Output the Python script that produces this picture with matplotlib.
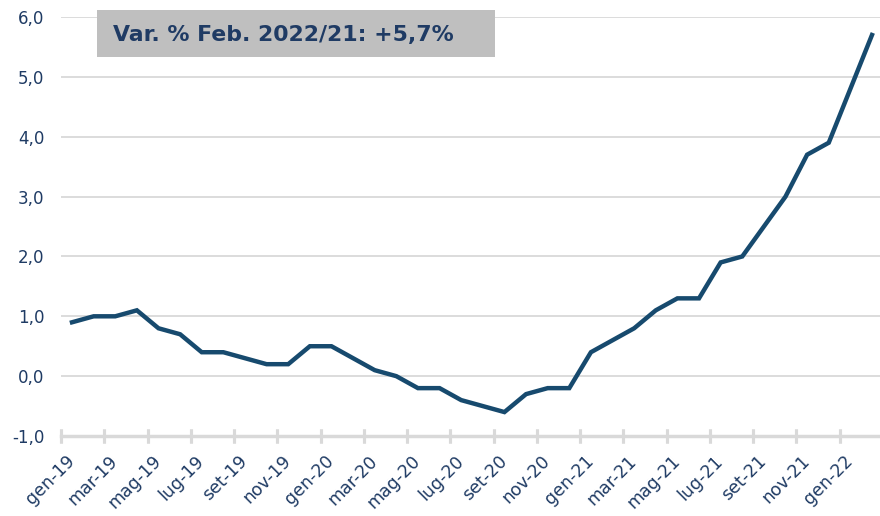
import matplotlib
matplotlib.use("Agg")
import matplotlib.pyplot as plt
from matplotlib.patches import Rectangle

months = ["gen", "feb", "mar", "apr", "mag", "giu", "lug", "ago", "set", "ott", "nov", "dic"]
categories = [f"{m}-{y}" for y in ("19", "20", "21") for m in months] + ["gen-22", "feb-22"]
values = [0.9, 1.0, 1.0, 1.1, 0.8, 0.7, 0.4, 0.4, 0.3, 0.2, 0.2, 0.5,
          0.5, 0.3, 0.1, 0.0, -0.2, -0.2, -0.4, -0.5, -0.6, -0.3, -0.2, -0.2,
          0.4, 0.6, 0.8, 1.1, 1.3, 1.3, 1.9, 2.0, 2.5, 3.0, 3.7, 3.9,
          4.8, 5.7]
yticks = [-1.0, 0.0, 1.0, 2.0, 3.0, 4.0, 5.0, 6.0]
title_text = "Var. % Feb. 2022/21: +5,7%"

text_color = "#1F3B64"
line_color = "#174A6E"
grid_color = "#D9D9D9"

plt.rcParams['font.family'] = ['DejaVu Sans']

fig = plt.figure(figsize=(8.8, 5.16), dpi=100)
ax = fig.add_axes([61.2 / 880, 0.155, 821.6 / 880, 0.812])

x = list(range(len(values)))
ax.plot(x, values, color=line_color, lw=3.2, solid_joinstyle='miter', zorder=3,
        clip_on=False)

ax.set_xlim(-0.5, len(values) - 0.5)
ax.set_ylim(-1.0, 6.0)
ax.set_yticks(yticks)
ax.set_yticklabels([f"{v:.1f}".replace(".", ",") for v in yticks],
                   color=text_color, fontsize=12)
for v in yticks[1:]:
    ax.axhline(v, color=grid_color, lw=1.3, zorder=1)

for s in ax.spines.values():
    s.set_visible(False)
ax.axhline(-1.0, color=grid_color, lw=2.5, zorder=2, clip_on=False)

ax.tick_params(axis='y', length=0, pad=12)
label_pos = x[::2]
ax.set_xticks(label_pos)
ax.set_xticklabels(categories[::2], rotation=45, ha='right', va='center',
                   rotation_mode='anchor', color=text_color, fontsize=12.5)
ax.tick_params(axis='x', length=0, pad=16)
for b in [i - 0.5 for i in range(0, len(values), 2)]:
    ax.plot([b, b], [-1.0, -1.0], marker='|', markersize=10, markeredgewidth=2.2,
            color=grid_color, clip_on=False, zorder=2)

fig.patches.append(Rectangle((97 / 880, 1 - 57 / 516), (495 - 97) / 880, 47 / 516,
                             transform=fig.transFigure, facecolor="#BFBFBF",
                             edgecolor='none', zorder=5))
fig.text(113 / 880, 1 - 35 / 516, title_text, ha='left', va='center',
         fontsize=15.8, fontweight='bold', color=text_color, zorder=6)

fig.savefig("out.png", dpi=100)
